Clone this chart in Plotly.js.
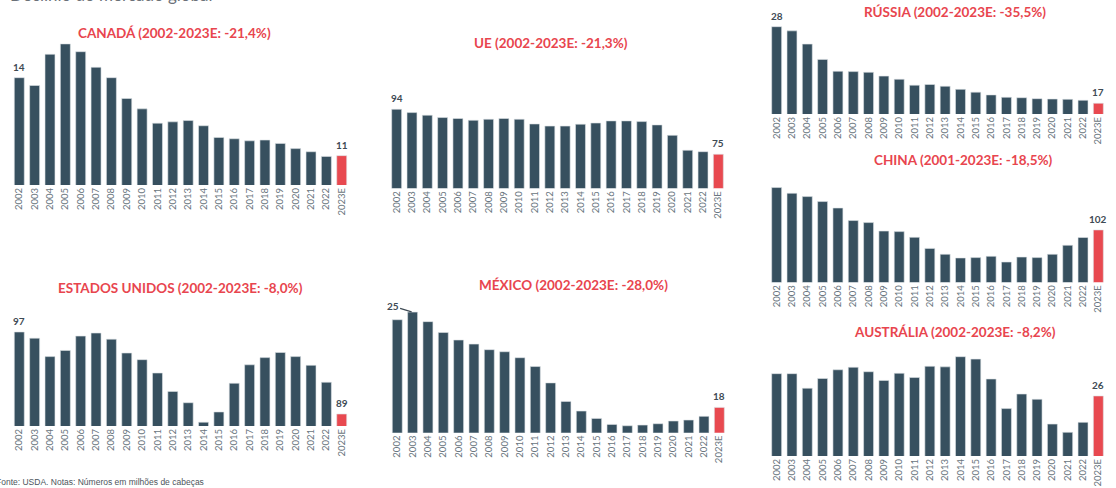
<!DOCTYPE html>
<html>
<head>
<meta charset="utf-8">
<script src="https://cdn.plot.ly/plotly-3.0.1.min.js"></script>
<style>
html,body{margin:0;padding:0;background:#fff;}
#chart{width:1116px;height:488px;}
</style>
</head>
<body>
<div id="chart"></div>
<script>
// ---------- DATA ----------
const years = ["2002","2003","2004","2005","2006","2007","2008","2009","2010","2011","2012","2013","2014","2015","2016","2017","2018","2019","2020","2021","2022","2023E"];

const canada    = [14.0,13.7,14.9,15.3,15.0,14.4,14.0,13.2,12.8,12.25,12.3,12.35,12.15,11.7,11.65,11.57,11.6,11.47,11.27,11.15,10.97,11.0];
const ue        = [94.0,92.6,91.5,90.5,90.1,89.35,89.8,90.1,89.8,87.8,86.9,86.9,87.7,88.2,89.1,89.1,88.8,87.4,83.0,76.7,76.1,75.0];
const russia    = [28.0,27.4,25.5,23.3,21.6,21.55,21.45,20.9,20.45,19.6,19.7,19.45,19.0,18.6,18.2,17.86,17.8,17.66,17.61,17.57,17.43,17.0];
const china     = [125.0,121.9,120.1,117.4,113.9,107.1,106.0,101.4,101.1,98.0,92.0,88.8,86.8,87.0,87.7,84.6,87.3,87.0,88.8,93.7,97.9,102.0];
const eua       = [97.0,96.4,94.6,95.2,96.6,96.9,96.3,94.95,94.3,93.0,91.2,90.1,88.2,89.2,92.0,93.8,94.5,95.0,94.6,93.75,92.1,89.0];
const mexico    = [24.44,25.0,24.3,23.5,22.95,22.65,22.24,22.09,21.65,21.0,19.8,18.44,17.73,17.19,16.75,16.65,16.7,16.8,17.0,17.07,17.34,18.0];
const australia = [28.3,28.3,26.8,27.8,28.7,28.96,28.5,27.6,28.34,27.9,29.06,29.0,30.05,29.8,27.75,24.7,26.2,25.66,23.1,22.25,23.28,26.0];

const titles = {
  canada: "CANADÁ (2002-2023E: -21,4%)",
  ue: "UE (2002-2023E: -21,3%)",
  russia: "RÚSSIA (2002-2023E: -35,5%)",
  china: "CHINA (2001-2023E: -18,5%)",
  eua: "ESTADOS UNIDOS (2002-2023E: -8,0%)",
  mexico: "MÉXICO (2002-2023E: -28,0%)",
  australia: "AUSTRÁLIA (2002-2023E: -8,2%)"
};
const headerText = "Declínio do mercado global";
const sourceText = "Fonte: USDA. Notas: Números em milhões de cabeças";

// ---------- STYLE / LAYOUT ----------
const W = 1116, H = 488;
const DARK = "#37505f", RED = "#e84950", TITLE_RED = "#e8454e";
const panels = [
  {key:"canada", data:canada, x:[11.6,349.4], y:[185,40], range:[9.87,15.45], tx:174, ty:33, labels:[0,21]},
  {key:"ue", data:ue, x:[389.0,726.0], y:[188.3,60], range:[60.64,114.8], tx:551, ty:43, labels:[0,21]},
  {key:"russia", data:russia, x:[769.0,1106.0], y:[114,20], range:[15.46,28.96], tx:955, ty:12, labels:[0,21]},
  {key:"china", data:china, x:[769.0,1106.0], y:[282.3,180], range:[73.6,129.1], tx:963, ty:160, labels:[21]},
  {key:"eua", data:eua, x:[11.6,349.4], y:[426,320], range:[87.83,98.17], tx:180, ty:288, labels:[0,21]},
  {key:"mexico", data:mexico, x:[389.6,727.0], y:[432.7,300], range:[16.14,25.89], tx:573, ty:285, labels:[21], leader:1},
  {key:"australia", data:australia, x:[769.0,1106.0], y:[456,350], range:[19.81,30.74], tx:955, ty:332, labels:[21]}
];

const traces = [];
const layout = {
  width: W, height: H, autosize:false,
  margin:{l:0,r:0,t:0,b:0},
  paper_bgcolor:"#fff", plot_bgcolor:"rgba(0,0,0,0)",
  showlegend:false, bargap:0.35,
  font:{family:"Lato, 'Open Sans', sans-serif", color:"#5f6b75"},
  annotations:[]
};

panels.forEach((p, i) => {
  const n = i === 0 ? "" : String(i+1);
  const colors = years.map((y, j) => j === years.length-1 ? RED : DARK);
  traces.push({
    type:"bar", x:years, y:p.data, xaxis:"x"+n, yaxis:"y"+n,
    marker:{color:colors, line:{width:0.6, color:"#dde2e6"}},
    hoverinfo:"x+y", cliponaxis:true
  });
  layout["xaxis"+n] = {
    domain:[p.x[0]/W, p.x[1]/W], anchor:"y"+n,
    type:"category", range:[-0.5, years.length-0.5], autorange:false,
    tickangle:-90, showgrid:false, zeroline:false, showline:false,
    ticks:"", ticklen:0, tickfont:{size:9.5, color:"#6a7680", family:"Lato, 'Open Sans', sans-serif"},
    fixedrange:true
  };
  layout["yaxis"+n] = {
    domain:[(H-p.y[0])/H, (H-p.y[1])/H], anchor:"x"+n,
    range:p.range, autorange:false, showgrid:false, zeroline:false, showline:false,
    showticklabels:false, ticks:"", fixedrange:true
  };
  layout.annotations.push({
    xref:"paper", yref:"paper", x:p.tx/W, y:(H-p.ty)/H, xanchor:"center", yanchor:"middle",
    text:"<b>"+titles[p.key]+"</b>", showarrow:false,
    font:{size:13.5, color:TITLE_RED, family:"Lato, 'Open Sans', sans-serif"}
  });
  p.labels.forEach(j => {
    layout.annotations.push({
      xref:"x"+n, yref:"y"+n, x:j, y:p.data[j], yanchor:"bottom", yshift:3,
      text:"<b>"+Math.round(p.data[j])+"</b>", showarrow:false,
      font:{size:10, color:"#3e4a54"}
    });
  });
  if (p.leader !== undefined) {
    const j = p.leader;
    layout.annotations.push({
      xref:"x"+n, yref:"y"+n, x:j, y:p.data[j],
      text:"<b>"+Math.round(p.data[j])+"</b>", showarrow:true, arrowhead:0, arrowwidth:1.2,
      arrowcolor:"#3e4a54", ax:-20, ay:-6, standoff:1,
      font:{size:10, color:"#3e4a54"}
    });
  }
});

layout.annotations.push({
  xref:"paper", yref:"paper", x:8/W, y:(H+5)/H, xanchor:"left", yanchor:"middle",
  text:headerText, showarrow:false, font:{size:17, color:"#6b7178", family:"Lato, sans-serif"}
});
layout.annotations.push({
  xref:"paper", yref:"paper", x:-6/W, y:(H-481.5)/H, xanchor:"left", yanchor:"middle",
  text:sourceText, showarrow:false, font:{size:8.5, color:"#4d555c", family:"'Liberation Sans', Arial, sans-serif"}
});

Plotly.newPlot("chart", traces, layout, {displayModeBar:false, staticPlot:true});
</script>
</body>
</html>
